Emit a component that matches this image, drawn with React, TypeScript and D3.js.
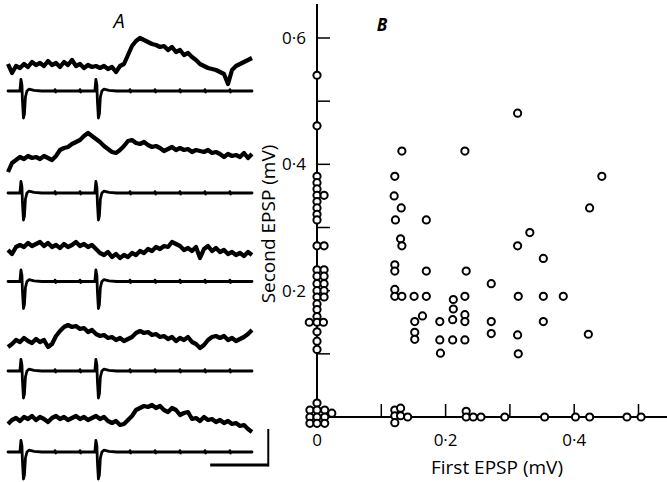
import React from "react";
import * as d3 from "d3";

// ---- panel A: recorded traces (µV offsets from baseline, one sample per step) ----
const epsp1 = [30, -60, 10, -10, 30, 0, 50, 20, 40, 10, 60, 20, 40, 0, 50, 20, 70, 10, 30, -10, 20, 0, 10, -10, 10, -20, 0, -50, 10, 30, 120, 210, 260, 290, 270, 250, 230, 220, 200, 210, 170, 200, 150, 170, 120, 140, 100, 70, 30, 10, -10, -20, -30, -50, -70, -170, -30, 10, 30, 50, 70, 90];
const epsp2 = [-150, -60, -30, 0, -20, 10, -10, 0, -20, 10, -10, -30, 10, 70, 90, 100, 130, 150, 170, 210, 240, 210, 180, 150, 110, 80, 50, 40, 70, 110, 160, 170, 140, 130, 150, 120, 100, 110, 90, 60, 80, 100, 70, 90, 70, 80, 50, 70, 60, 50, 70, 40, 50, 30, 0, 30, 10, 20, 0, 40, -10, 30];
const epsp3 = [-20, -60, 10, 30, 10, 50, 20, 40, 60, 20, 50, 10, 30, 0, 40, 10, 30, 60, 20, 40, 10, 30, -10, -50, -70, -40, -90, -60, -100, -70, -90, -50, -70, -30, -50, -10, -30, 10, -10, 20, 10, 60, 40, 20, -20, 0, -30, 10, -100, -10, 20, -30, 0, -40, -20, -60, -40, -70, -50, -80, -40, -70];
const epsp4 = [-60, -30, 10, -10, 30, 0, -20, 20, -10, 10, -60, -30, 50, 100, 140, 160, 140, 150, 120, 130, 90, 110, 70, 50, 60, 30, 40, 10, 30, 0, 20, 40, 80, 100, 80, 90, 60, 70, 40, 50, 20, 40, 0, 30, 10, 40, -10, -30, -70, -40, 10, 40, 50, 30, 50, 10, 30, 0, 20, 40, 70, 110];
const epsp5 = [-50, -10, 10, -20, 20, 0, 30, -10, 20, 0, -30, 10, 30, 0, 20, -10, 10, 30, 0, 20, -10, 10, 30, 0, 20, -20, -40, -20, -60, -50, -10, 30, 90, 110, 130, 120, 140, 110, 130, 90, 70, 110, 90, 40, 60, 70, 0, 10, -20, 20, -10, 0, -30, -10, -40, -20, -50, -40, -70, -60, -100, -130];
const epspTraces = [epsp1, epsp2, epsp3, epsp4, epsp5];

// stimulus artefact shape (ms from shock, µV)
const spikeT = [-0.35, -0.17, 0, 0.09, 0.26, 0.43, 0.6, 0.86, 1.2, 2.1, 3.4];
const spikeV = [0, 115, 60, -100, -270, -230, -60, 0, 18, 6, 0];
const shockTimes = [2.4, 15.3];
const markerTimes = [8.1, 12.4, 21.0, 25.3, 29.6, 33.9, 38.2];
const SWEEP_MS = 42;
const BAR_MS = 10;
const BAR_UV = 360;

// ---- panel B: first vs second EPSP amplitude (mV) ----
const firstEpsp = [
  0, 0, 0, 0, 0, 0, 0.011, 0, 0, 0, 0, 0, 0.011, 0, 0.011, 0, 0.011, 0, 0.011, 0, 0.011, 0, 0.011, 0, 0, 0, -0.012, 0, 0.01, 0, 0, 0,
  0, -0.011, 0, 0.012, -0.011, 0, 0.012, -0.011, 0, 0.012, 0.023,
  0.121, 0.13, 0.121, 0.13, 0.141, 0.121,
  0.232, 0.232, 0.243, 0.255, 0.292, 0.354, 0.402, 0.424, 0.482, 0.504,
  0.312, 0.132, 0.23, 0.121, 0.443, 0.12, 0.131, 0.424, 0.122, 0.17, 0.331, 0.13, 0.132, 0.312, 0.352,
  0.121, 0.121, 0.17, 0.232, 0.271, 0.121, 0.121, 0.132, 0.151, 0.17, 0.212, 0.23, 0.313, 0.352, 0.383,
  0.212, 0.164, 0.152, 0.191, 0.211, 0.23, 0.23, 0.271, 0.352, 0.152, 0.152, 0.191, 0.211, 0.23, 0.271,
  0.312, 0.422, 0.192, 0.313,
];
const secondEpsp = [
  0.541, 0.461, 0.381, 0.371, 0.361, 0.351, 0.351, 0.341, 0.331, 0.321, 0.312, 0.271, 0.271, 0.233, 0.233, 0.223, 0.223, 0.211, 0.211, 0.2, 0.2, 0.19, 0.19, 0.179, 0.17, 0.159, 0.15, 0.15, 0.15, 0.135, 0.12, 0.107,
  0.022, 0.011, 0.011, 0.011, 0.0, 0.0, 0.0, -0.01, -0.01, -0.01, 0.006,
  0.011, 0.014, 0.002, 0.002, 0, -0.009,
  0.009, 0, 0, 0, 0, 0, 0, 0, 0, 0,
  0.481, 0.421, 0.421, 0.381, 0.381, 0.35, 0.331, 0.331, 0.312, 0.312, 0.292, 0.282, 0.271, 0.271, 0.251,
  0.241, 0.231, 0.231, 0.231, 0.211, 0.202, 0.191, 0.191, 0.191, 0.191, 0.186, 0.191, 0.191, 0.191, 0.191,
  0.171, 0.16, 0.151, 0.151, 0.154, 0.162, 0.151, 0.151, 0.151, 0.134, 0.123, 0.122, 0.122, 0.122, 0.132,
  0.13, 0.131, 0.101, 0.1,
];
const xTicks = [0.1, 0.2, 0.3, 0.4, 0.5];
const yTicks = [0.1, 0.2, 0.3, 0.4, 0.5, 0.6];
const xLabels = [0, 0.2, 0.4];
const yLabels = [0.2, 0.4, 0.6];

const W = 667;
const H = 482;
const FONT = "'Open Sans', Lato, sans-serif";

const fmt = (v: number) => (v === 0 ? "0" : d3.format(".1f")(v).replace(".", "\u00b7"));

const epspRows = [67, 157, 248, 341, 419];
const stimRows = [91, 193, 281.5, 371, 452];

export default function App() {
  const tX = d3.scaleLinear().domain([0, SWEEP_MS]).range([8, 252]);
  const vY = d3.scaleLinear().domain([0, 100]).range([0, -10]);

  const epspLine = (vals: number[]) => {
    const idx = d3.scaleLinear().domain([0, vals.length - 1]).range([0, SWEEP_MS]);
    return d3
      .line<number>()
      .x((_, i) => tX(idx(i)))
      .y((v) => vY(v))(vals) as string;
  };

  const stimPts: [number, number][] = [[0, 0], [SWEEP_MS, 0]];
  shockTimes.forEach((s) => spikeT.forEach((t, i) => stimPts.push([s + t, spikeV[i]])));
  markerTimes.forEach((m) => {
    stimPts.push([m - 0.1, 0], [m, 14], [m + 0.1, -10], [m + 0.2, 0]);
  });
  stimPts.sort((a, b) => a[0] - b[0]);
  const stimPath = d3
    .line<[number, number]>()
    .x((d) => tX(d[0]))
    .y((d) => vY(d[1]))(stimPts) as string;

  // panel B scales
  const xB = d3.scaleLinear().domain([0, 0.5]).range([317, 638.5]);
  const yB = d3.scaleLinear().domain([0, 0.6]).range([417, 38]);
  const pts = firstEpsp.map((x, i) => [x, secondEpsp[i]]);

  const barY = 465;
  const barX0 = tX(34.8);
  const barX1 = tX(34.8 + BAR_MS);

  return (
    <svg width={W} height={H} style={{ position: "absolute", left: 0, top: 0, background: "#fff" }}>
      {/* Panel A */}
      <text x={119} y={28} fontFamily={FONT} fontStyle="italic" fontSize={20} textAnchor="middle">
        A
      </text>
      {epspTraces.map((tr, k) => (
        <g key={"e" + k} transform={`translate(0,${epspRows[k]})`}>
          <path d={epspLine(tr)} fill="none" stroke="#000" strokeWidth={4.2} strokeLinejoin="round" />
        </g>
      ))}
      {stimRows.map((r, k) => (
        <g key={"s" + k} transform={`translate(0,${r})`}>
          <path d={stimPath} fill="none" stroke="#000" strokeWidth={2.8} strokeLinejoin="round" strokeLinecap="round" />
        </g>
      ))}
      <line x1={barX0} x2={barX1} y1={barY} y2={barY} stroke="#000" strokeWidth={3} />
      <line x1={barX1} x2={barX1} y1={barY + 1.5} y2={barY + vY(BAR_UV)} stroke="#000" strokeWidth={2} />

      {/* Panel B */}
      <line x1={xB(0)} x2={xB(0)} y1={yB(0)} y2={yB(0.654)} stroke="#000" strokeWidth={2} />
      <line x1={xB(0)} x2={xB(0.55)} y1={yB(0)} y2={yB(0)} stroke="#000" strokeWidth={2} />
      {yTicks.map((t) => (
        <line key={"yt" + t} x1={xB(0)} x2={xB(0) + 13} y1={yB(t)} y2={yB(t)} stroke="#000" strokeWidth={1.5} />
      ))}
      {xTicks.map((t) => (
        <line key={"xt" + t} x1={xB(t)} x2={xB(t)} y1={yB(0)} y2={yB(0) - 13} stroke="#000" strokeWidth={1.5} />
      ))}
      {yLabels.map((t) => (
        <text key={"yl" + t} x={306} y={yB(t)} dy="0.36em" textAnchor="end" fontFamily={FONT} fontSize={17}>
          {fmt(t)}
        </text>
      ))}
      {xLabels.map((t) => (
        <text key={"xl" + t} x={xB(t)} y={446} textAnchor="middle" fontFamily={FONT} fontSize={17}>
          {fmt(t)}
        </text>
      ))}
      <text x={497} y={474} textAnchor="middle" fontFamily={FONT} fontSize={19}>
        First EPSP (mV)
      </text>
      <text transform={`translate(275,224) rotate(-90)`} textAnchor="middle" fontFamily={FONT} fontSize={19}>
        Second EPSP (mV)
      </text>
      <text x={382} y={31} textAnchor="middle" fontFamily={FONT} fontStyle="italic" fontWeight="bold" fontSize={17}>
        B
      </text>
      {pts.map((p, i) => (
        <circle key={i} cx={xB(p[0])} cy={yB(p[1])} r={3.6} fill="#fff" stroke="#000" strokeWidth={2} />
      ))}
    </svg>
  );
}
